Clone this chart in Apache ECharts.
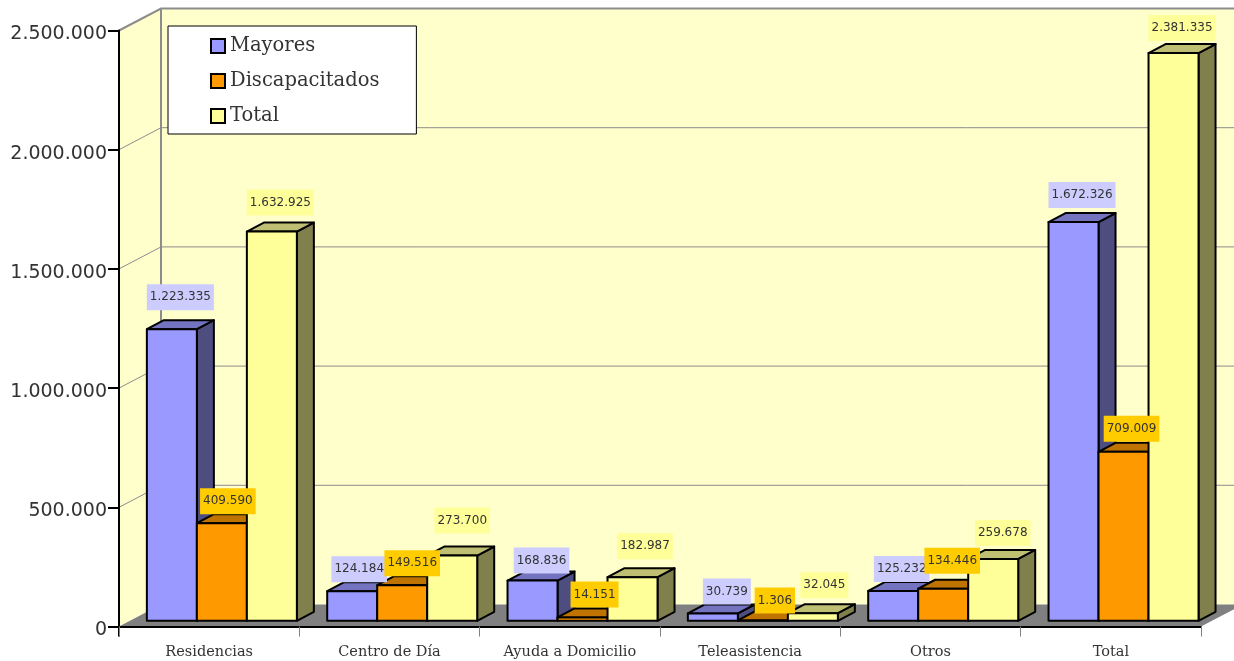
<!DOCTYPE html>
<html>
<head>
<meta charset="utf-8">
<style>html,body{margin:0;padding:0;background:#fff}#c{width:1234px;height:661px}</style>
<script src="https://cdn.jsdelivr.net/npm/echarts@6/dist/echarts.min.js"></script>
</head>
<body>
<div id="c"></div>
<script>
const categories = ['Residencias','Centro de Día','Ayuda a Domicilio','Teleasistencia','Otros','Total'];
const mayores = [1223335,124184,168836,30739,125232,1672326];
const discapacitados = [409590,149516,14151,1306,134446,709009];
const total = [1632925,273700,182987,32045,259678,2381335];
const yTicks = [0,500000,1000000,1500000,2000000,2500000];

// label placement tweaks (px), separate from the data
const labelGaps = [[10,0,-2,0,0,5],[0,0,1,-2,6,1],[7,13,9,6,4,3]];
const labelShift = [[0,-1.5,0.5,5.5,0,0],[-2.5,1.5,3.5,3.5,0.5,-0.5],[0,1.5,4,3,1,0]];

const seriesStyle = [
  {name:'Mayores', front:'#9999FF', top:'#7373BF', side:'#4D4D80', label:'#CCCCFF'},
  {name:'Discapacitados', front:'#FF9900', top:'#BF7300', side:'#804D00', label:'#FFCC00'},
  {name:'Total', front:'#FFFF99', top:'#BFBF73', side:'#80804D', label:'#FFFF99'}
];
const wallDepth = [42,-22], barInset = [12.7,-5.7], barDepth = [17,-9], barW = 50;
const fmt = v => String(v).replace(/\B(?=(\d{3})+(?!\d))/g,'.');

function renderWalls(params, api){
  const cs = params.coordSys, L = cs.x, R = cs.x+cs.width;
  const y0 = api.coord([0,0])[1], yT = api.coord([0,yTicks[yTicks.length-1]])[1];
  const dx = wallDepth[0], dy = wallDepth[1], kids = [];
  kids.push({type:'polygon',shape:{points:[[L,yT],[L+dx,yT+dy],[L+dx,y0+dy],[L,y0]]},style:{fill:'#FFFFCC'}});
  kids.push({type:'rect',shape:{x:L+dx,y:yT+dy,width:R-L,height:y0-yT},style:{fill:'#FFFFCC'}});
  kids.push({type:'polygon',shape:{points:[[L,y0],[L+dx,y0+dy],[R+dx,y0+dy],[R,y0]]},style:{fill:'#808080'}});
  yTicks.slice(1).forEach(t=>{
    const y = api.coord([0,t])[1];
    const top = t===yTicks[yTicks.length-1];
    const st = {stroke:'#8C8C8C',lineWidth:top?2:1,fill:'none'};
    kids.push({type:'polyline',shape:{points:[[L,y],[L+dx,y+dy],[R+dx,y+dy]]},style:st});
  });
  kids.push({type:'line',shape:{x1:L+dx,y1:yT+dy,x2:L+dx,y2:y0+dy},style:{stroke:'#8C8C8C',lineWidth:2}});
  kids.push({type:'line',shape:{x1:L,y1:y0,x2:L,y2:y0+10},style:{stroke:'#000',lineWidth:2},z2:5});
  return {type:'group',children:kids};
}

function makeBars(si){
  const s = seriesStyle[si];
  return function(params, api){
    const i = api.value(0), v = api.value(1);
    const cx = api.coord([i,0])[0];
    const x0 = cx + barInset[0] + (si-1.5)*barW;
    const x1 = x0 + barW;
    const yb = api.coord([i,0])[1] + barInset[1];
    const yt = api.coord([i,v])[1] + barInset[1];
    const ddx = barDepth[0], ddy = barDepth[1];
    const line = {stroke:'#000',lineWidth:2,lineJoin:'round'};
    const z = 10 + si*2;
    const lx = (x0+x1+ddx)/2 + labelShift[si][i];
    const ly = yt + ddy - labelGaps[si][i];
    return {type:'group',children:[
      {type:'polygon',z2:z,shape:{points:[[x1,yb],[x1+ddx,yb+ddy],[x1+ddx,yt+ddy],[x1,yt]]},style:{fill:s.side,...line}},
      {type:'polygon',z2:z,shape:{points:[[x0,yt],[x0+ddx,yt+ddy],[x1+ddx,yt+ddy],[x1,yt]]},style:{fill:s.top,...line}},
      {type:'rect',z2:z+1,shape:{x:x0,y:yt,width:barW,height:yb-yt},style:{fill:s.front,...line}},
      {type:'text',z2:100+si,style:{
        text:fmt(v),x:lx,y:ly,align:'center',verticalAlign:'bottom',
        fill:'#333',fontFamily:'DejaVu Sans',fontSize:12,lineHeight:14,
        backgroundColor:s.label,padding:[6,3]
      }}
    ]};
  };
}

const valueArrays = [mayores,discapacitados,total];
const chart = echarts.init(document.getElementById('c'),null,{renderer:'canvas'});
chart.setOption({
  animation:false,
  backgroundColor:'#fff',
  grid:{left:119,right:33,top:30.5,bottom:34.5,containLabel:false},
  legend:{
    orient:'vertical',left:168,top:26,
    backgroundColor:'#fff',borderColor:'#000',borderWidth:1,borderRadius:0,
    padding:[10,37,8,42],itemWidth:14,itemHeight:14,itemGap:15,
    icon:'rect',selectedMode:false,
    textStyle:{fontFamily:'DejaVu Serif',fontSize:19.5,color:'#333',lineHeight:14},
    data:seriesStyle.map(s=>s.name)
  },
  xAxis:{
    type:'category',data:categories,z:10,
    axisLine:{lineStyle:{color:'#000',width:2}},
    axisTick:{show:true,length:10,alignWithLabel:false,lineStyle:{color:'#808080',width:1}},
    axisLabel:{margin:18,interval:0,color:'#333',fontFamily:'DejaVu Serif',fontSize:14.5}
  },
  yAxis:{
    type:'value',min:0,max:2500000,interval:500000,z:10,
    axisLine:{show:true,lineStyle:{color:'#000',width:2}},
    axisTick:{show:true,length:11,lineStyle:{color:'#000',width:2}},
    splitLine:{show:false},
    axisLabel:{
      margin:12,
      formatter:v=>'{a|'+fmt(v)+'}',
      rich:{a:{color:'#333',fontFamily:'DejaVu Sans',fontSize:19,lineHeight:27,verticalAlign:'bottom'}}
    }
  },
  series:[
    {type:'custom',silent:true,renderItem:renderWalls,data:[[0,0]],encode:{x:0,y:1},clip:false,z:1},
    ...seriesStyle.map((s,si)=>({
      type:'custom',name:s.name,renderItem:makeBars(si),clip:false,z:2,
      itemStyle:{color:s.front,borderColor:'#000',borderWidth:2},
      encode:{x:0,y:1},
      data:valueArrays[si].map((v,i)=>[i,v])
    }))
  ]
});
</script>
</body>
</html>
